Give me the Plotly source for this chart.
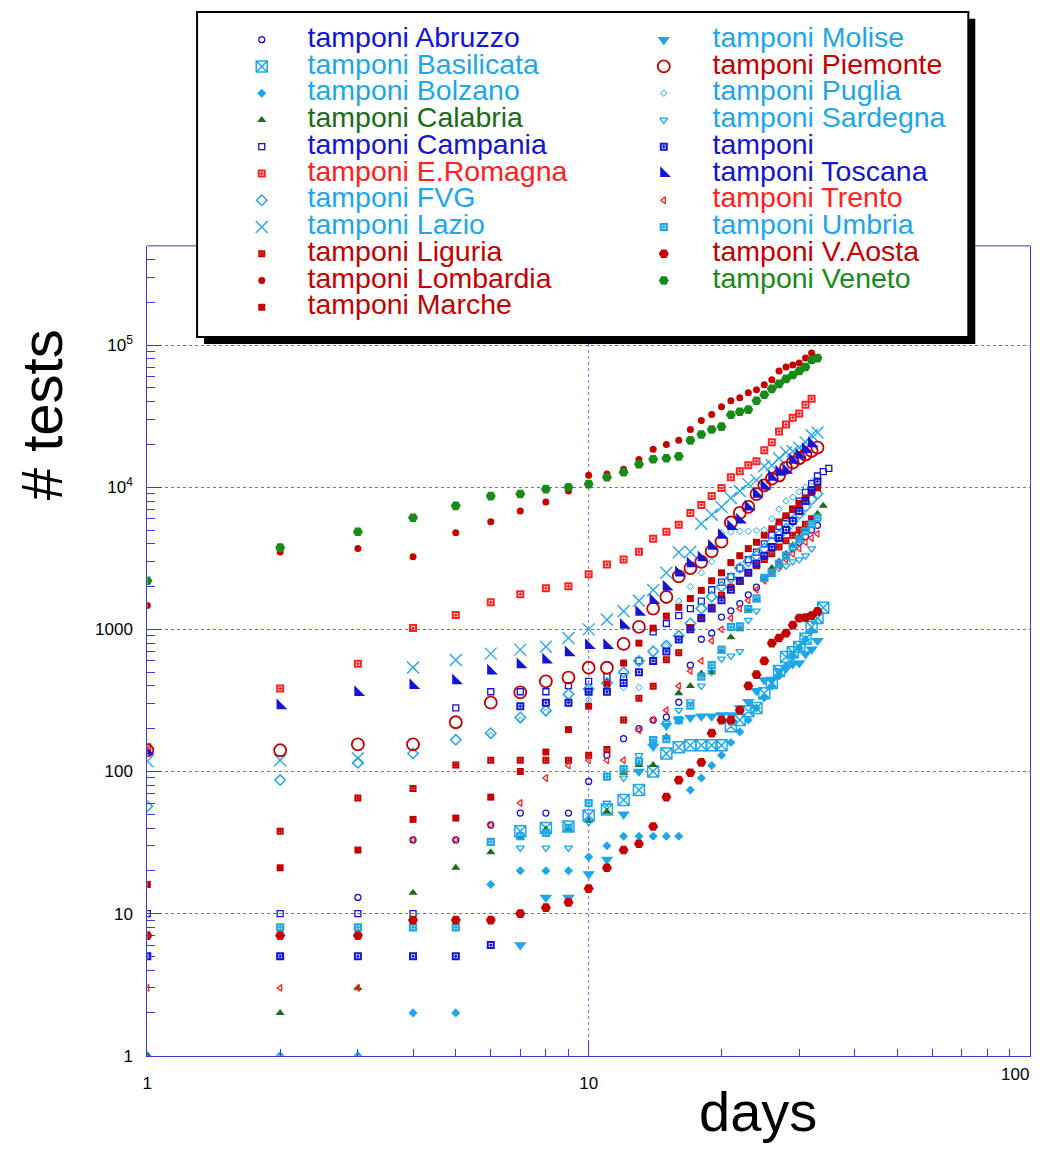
import plotly.graph_objects as go
import math

W, H = 1048, 1159          # window size
FW, FH = 1032, 1143        # figure size that the page shows without any rescaling
PX0, PX1 = 143, 1030
PY0, PY1 = 248, 1065
FONT = "Liberation Sans, Arial, Helvetica, sans-serif"

# ---------------- data (tests per day, day 1 = first day) ----------------
abruzzo = [5, 5, 13, 33, 33, 42, 51, 51, 51, 85, 130, 170, 200, 230, 241, 307, 560, 852, 940, 1220,
           1350, 1520, 1750, 1980, 2300, 2600, 2900, 3300, 3700, 4100, 4500, 5000, 5400]
basilicata = [None, None, None, None, None, None, 38, 40, 41, 49, 54, 63, 74, 100, 134, 148, 153, 153,
              153, 153, 208, 230, 265, 280, 355, 420, 510, 640, 690, 750, 860, 1040, 1200, 1420]
bolzano = [1, 1, 1, 2, 2, 16, 20, 20, 20, 25, 30, 35, 35, 35, 35, 35, 74, 90, 110, 130, 160, 190,
           230, 280, 330, 400, 470, 550, 640, 740, 850, 980]
calabria = [1, 2, 3, 14, 21, 27, 34, 39, 39, 45, 52, 98, 111, 111, 175, 355, 400, 490, 500, 700, 880,
            1000, 1350, 1600, 2300, 2700, 3000, 3400, 3900, 4500, 5000, 5900, 6500, 7400]
campania = [10, 10, 10, 10, 280, 364, 364, 364, 402, 430, 465, 465, 600, 960, 1100, 1250, 1400, 1580,
            1900, 2150, 2350, 2700, 3100, 3500, 4000, 4600, 5300, 6100, 7000, 8000, 9200, 10600, 12000,
            12900, 13600]
eromagna = [148, 383, 573, 1023, 1260, 1550, 1770, 1950, 2010, 2440, 2860, 3100, 3520, 4350, 4860, 5450,
            6600, 7510, 8670, 9870, 11760, 12970, 14290, 15240, 18200, 20700, 24700, 27600, 30900, 33000,
            38100, 42000]
fvg = [57, 87, 115, 134, 167, 186, 240, 268, 350, 380, 420, 500, 600, 700, 770, 900, 1100, 1400, 1700,
       2000, 2300, 2700, 3000, 3300, 3700, 4100, 4600, 5100, 5800, 6500, 7300, 8200, 9000]
lazio = [118, 120, 124, 539, 609, 675, 720, 754, 870, 1000, 1170, 1340, 1590, 1890, 2500, 3490, 3520,
         5540, 6400, 7270, 8410, 9400, 10520, 11220, 14060, 14290, 16000, 17600, 17900, 19000, 20700,
         23200, 24300]
liguria = [None, 38, 65, 76, 111, 120, 120, 120, 120, 130, 143, 230, 327, 398, 610, 685, 1030, 1190,
           1430, 1740, 1980, 2170, 2500, 2800, 3100, 3400, 3800, 4200, 4600, 5000, 5500, 6000]
lombardia = [1470, 3500, 3700, 3250, 4790, 5710, 6820, 7890, 9400, 12170, 12400, 13400, 15700, 18500,
             20000, 21400, 25500, 29500, 32500, 36900, 40600, 42700, 46200, 48500, 52600, 57000, 65800,
             70200, 72500, 74800, 81100, 87900]
marche = [16, 21, 28, 46, 47, 66, 100, 137, 197, 288, 413, 580, 800, 1020, 1240, 1430, 1650, 1880, 2200,
          2500, 2950, 3300, 3700, 4100, 4600, 5100, 5700, 6300, 7000, 7700, 8400, 9200, 9900]
molise = [None, None, None, None, None, None, 6, 13, 13, 19, 24, 50, 100, 150, 211, 230, 240, 245, 245,
          250, 250, 280, 310, 370, 440, 440, 510, 530, 570, 580, 670, 725, 830]
piemonte = [141, 141, 155, 155, 222, 305, 360, 430, 458, 537, 537, 790, 1040, 1400, 1690, 2360, 2700,
            2990, 3540, 4140, 5650, 6600, 7270, 8960, 10300, 11500, 12100, 13700, 14900, 16000, 17000,
            18000, 19000]
puglia = [None, None, None, None, None, 180, 230, 260, 300, 320, 380, 390, 390, 620, 770, 1580, 2000,
          2500, 3000, 4800, 4850, 4900, 4900, 4950, 5000, 6000, 7000, 8000, 8500, 9300, 10000, 11000]
sardegna = [None, None, None, None, None, None, 29, 29, 29, 44, 60, 90, 130, 170, 220, 270, 310, 400,
            500, 620, 650, 700, 1160, 1350, 2280, 2500, 2700, 2800, 3000, 3100, 3300, 3700]
senza_nome = [5, 5, 5, 5, 5, 6, 288, 305, 305, 364, 364, 420, 500, 600, 700, 850, 1000, 1200, 1400,
              1600, 1900, 2200, 2500, 2900, 3300, 3800, 4400, 5000, 5800, 6800, 8000, 9500, 11000]
toscana = [139, 290, 360, 403, 435, 510, 565, 610, 685, 770, 770, 1070, 1320, 1600, 1990, 2500, 2900,
           3200, 3850, 4600, 5300, 5900, 7270, 8960, 10200, 11760, 12800, 13200, 15500, 16800, 18500,
           20300]
trento = [3, 3, 3, 33, 33, 42, 60, 90, 110, 120, 120, 120, 195, 230, 270, 400, 510, 600, 830, 1000,
          1200, 1400, 1600, 1900, 2200, 2500, 2800, 3100, 3400, 3700, 4100, 4400, 4700]
umbria = [None, 8, 8, 8, 8, 32, 35, 37, 40, 60, 92, 104, 118, 166, 169, 230, 290, 465, 560, 720, 1040,
          1050, 1390, 1650, 2300, 2500, 2900, 3300, 3800, 4300, 4900, 5500, 6100]
vaosta = [7, 7, 7, 9, 9, 9, 10, 11, 12, 15, 21, 28, 31, 41, 66, 87, 98, 116, 186, 230, 230, 270, 400,
          480, 600, 800, 870, 940, 1070, 1200, 1210, 1250, 1340]
veneto = [2200, 3760, 4860, 6100, 7400, 8670, 8970, 9710, 10000, 10530, 11760, 12770, 14520, 15740,
          16000, 16500, 21400, 23500, 25500, 26700, 32400, 34000, 35200, 40600, 44800, 49300, 53400,
          57900, 61700, 65800, 70200, 78600, 81100]

labels = ["tamponi Abruzzo", "tamponi Basilicata", "tamponi Bolzano", "tamponi Calabria",
          "tamponi Campania", "tamponi E.Romagna", "tamponi FVG", "tamponi Lazio", "tamponi Liguria",
          "tamponi Lombardia", "tamponi Marche", "tamponi Molise", "tamponi Piemonte", "tamponi Puglia",
          "tamponi Sardegna", "tamponi", "tamponi Toscana", "tamponi Trento", "tamponi Umbria",
          "tamponi V.Aosta", "tamponi Veneto"]
series = [abruzzo, basilicata, bolzano, calabria, campania, eromagna, fvg, lazio, liguria, lombardia,
          marche, molise, piemonte, puglia, sardegna, senza_nome, toscana, trento, umbria, vaosta, veneto]

x_tickvals = [1, 10, 100]
x_ticktext = ["1", "10", "100"]
y_tickvals = [1, 10, 100, 1000, 10000, 100000]
y_ticktext = ["1", "10", "100", "1000", "10<sup>4</sup>", "10<sup>5</sup>"]

# ---------------- styles ----------------
BLUE = "#1414d2"
LBLUE = "#1ea6e8"
DGREEN = "#1b6b1b"
GREEN = "#178a17"
RED = "#ff2020"
DRED = "#c40000"
AXC = "#3b3bdc"
GRIDC = "#6a6af0"

styles = [
    ("circle-open", 6, BLUE, 1.3),
    ("square-x-open", 11, LBLUE, 1.5),
    ("diamond", 7, LBLUE, 0),
    ("triangle-up", 8, DGREEN, 0),
    ("square-open", 6, BLUE, 1.3),
    ("square-open-dot", 6, RED, 2),
    ("diamond-open", 8, LBLUE, 1.5),
    ("x-thin-open", 12, LBLUE, 1.3),
    ("square-open-dot", 5, DRED, 2),
    ("circle", 7, DRED, 0),
    ("square", 7, DRED, 0),
    ("triangle-down", 11, LBLUE, 0),
    ("circle-open", 12, DRED, 1.8),
    ("diamond-open", 5, LBLUE, 1),
    ("triangle-down-open", 7, LBLUE, 1.3),
    ("square-open-dot", 6, BLUE, 2),
    ("triangle-sw", 12, BLUE, 0),
    ("triangle-left-open", 6, RED, 1.3),
    ("square-open-dot", 6, LBLUE, 2.2),
    ("hexagon2", 10, DRED, 0),
    ("hexagon2", 10, GREEN, 0),
]
text_colors = [BLUE, LBLUE, LBLUE, DGREEN, BLUE, RED, LBLUE, LBLUE, DRED, DRED, DRED,
               LBLUE, DRED, LBLUE, LBLUE, BLUE, BLUE, RED, LBLUE, DRED, GREEN]

fig = go.Figure()

for name, vals, (sym, size, col, lw) in zip(labels, series, styles):
    xs = [d + 1 for d, v in enumerate(vals) if v is not None]
    ys = [v for v in vals if v is not None]
    fig.add_trace(go.Scatter(
        x=xs, y=ys, mode="markers", name=name, showlegend=False,
        marker=dict(symbol=sym, size=size, color=col, line=dict(color=col, width=lw)),
        xaxis="x", yaxis="y"))

# ---------------- hand-made legend (window-pixel coordinates on a hidden overlay axis) ----------------
left_rows = [40, 67, 94, 121, 148, 175, 202, 229, 256, 283, 310]
right_rows = [40, 67, 94, 121, 148, 175, 202, 229, 256, 283]
sym_x = [258] * 11 + [662] * 10
txt_x = [304] * 11 + [711] * 10
rows = left_rows + right_rows

for i, (sym, size, col, lw) in enumerate(styles):
    fig.add_trace(go.Scatter(
        x=[sym_x[i]], y=[rows[i]], mode="markers", showlegend=False, hoverinfo="skip",
        marker=dict(symbol=sym, size=size, color=col, line=dict(color=col, width=lw)),
        xaxis="x2", yaxis="y2"))
fig.add_trace(go.Scatter(
    x=txt_x, y=rows, mode="text", text=labels, textposition="middle right",
    textfont=dict(family=FONT, size=28.5, color=text_colors), showlegend=False, hoverinfo="skip",
    xaxis="x2", yaxis="y2"))


def px(x):
    return x / FW


def py(y):
    return 1 - y / FH


shapes = [
    # top frame line of the plot (partly hidden by the legend box)
    dict(type="line", xref="paper", yref="paper", x0=px(PX0), x1=px(PX1), y0=py(PY0), y1=py(PY0),
         line=dict(color=AXC, width=1), layer="below"),
    # vertical grid line at x = 10
    dict(type="line", xref="paper", yref="paper", x0=px(586.5), x1=px(586.5), y0=py(347), y1=py(PY1),
         line=dict(color=GRIDC, width=1, dash="dot"), layer="below"),
    # legend shadow
    dict(type="rect", xref="paper", yref="paper", x0=px(200), x1=px(975), y0=py(347), y1=py(19),
         fillcolor="black", line=dict(width=0), layer="below"),
    # legend box
    dict(type="rect", xref="paper", yref="paper", x0=px(193), x1=px(968), y0=py(340), y1=py(12),
         fillcolor="white", line=dict(color="black", width=2), layer="below"),
]

minor_x = [v * 10 ** k for k in range(0, 2) for v in range(2, 10)]
minor_y = [v * 10 ** k for k in range(0, 6) for v in range(2, 10) if v * 10 ** k <= 500000]

fig.update_layout(
    width=FW, height=FH,
    margin=dict(l=0, r=0, t=0, b=0),
    paper_bgcolor="white", plot_bgcolor="rgba(0,0,0,0)",
    font=dict(family=FONT, color="black"),
    shapes=shapes,
    xaxis=dict(type="log", range=[0, 2], domain=[px(PX0), px(PX1)], anchor="y",
               tickmode="array", tickvals=x_tickvals[:2], ticktext=x_ticktext[:2],
               ticks="inside", ticklen=15, tickcolor=AXC, tickwidth=1,
               showline=True, linecolor=AXC, linewidth=1, mirror=False,
               showgrid=False, zeroline=False, tickfont=dict(size=17, family=FONT),
               ticklabelstandoff=12,
               minor=dict(tickmode="array", tickvals=minor_x, ticks="inside", ticklen=7,
                          tickcolor=AXC, showgrid=False)),
    yaxis=dict(type="log", range=[0, math.log10(500000)], domain=[py(PY1), py(PY0)], anchor="x",
               tickmode="array", tickvals=y_tickvals, ticktext=y_ticktext,
               ticks="inside", ticklen=15, tickcolor=AXC, tickwidth=1,
               showline=True, linecolor=AXC, linewidth=1, mirror=True,
               showgrid=True, gridcolor=GRIDC, gridwidth=1, griddash="dot",
               zeroline=False, tickfont=dict(size=17, family=FONT),
               ticklabelstandoff=10,
               minor=dict(tickmode="array", tickvals=minor_y, ticks="inside", ticklen=8,
                          tickcolor=AXC, showgrid=False)),
    xaxis2=dict(domain=[0, 1], range=[0, FW], anchor="y2", visible=False, fixedrange=True),
    yaxis2=dict(domain=[0, 1], range=[FH, 0], anchor="x2", visible=False, fixedrange=True),
    annotations=[
        dict(text="# tests", xref="paper", yref="paper", x=px(37), y=py(418), textangle=-90,
             showarrow=False, font=dict(size=58, family=FONT, color="black"),
             xanchor="center", yanchor="middle"),
        dict(text="days", xref="paper", yref="paper", x=px(757), y=py(1121),
             showarrow=False, font=dict(size=56, family=FONT, color="black"),
             xanchor="center", yanchor="middle"),
        # label of the last x tick, kept inside the page edge
        dict(text=x_ticktext[2], xref="paper", yref="paper", x=px(1031), y=py(1084),
             showarrow=False, font=dict(size=17, family=FONT, color="black"),
             xanchor="right", yanchor="middle"),
    ],
)

fig.write_html("out.html")
